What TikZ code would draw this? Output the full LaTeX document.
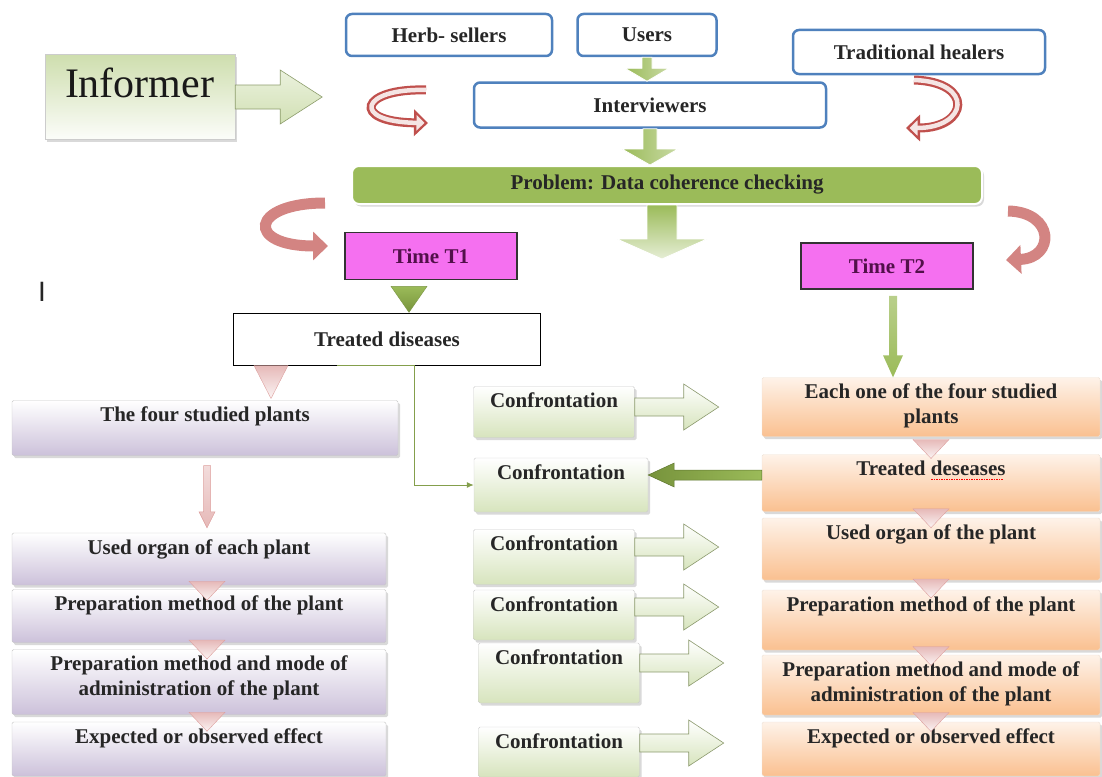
\documentclass[tikz,border=0pt]{standalone}
\usepackage{fontspec}
\setmainfont{Liberation Serif}
\newfontfamily\sansI{Liberation Sans}
\usepackage{tikz}
\usetikzlibrary{positioning, arrows.meta, calc, shadows}

\definecolor{boxblue}{HTML}{4F81BD}
\definecolor{olive}{HTML}{9BBB59}
\definecolor{darkolive}{HTML}{77933C}
\definecolor{paleolive}{HTML}{D7E4BD}
\definecolor{lavender}{HTML}{CCC1DA}
\definecolor{peach}{HTML}{FAC090}
\definecolor{rosered}{HTML}{C0504D}
\definecolor{rosepink}{HTML}{D99694}
\definecolor{magentabox}{HTML}{F570F0}
\definecolor{timetext}{HTML}{52104A}
\definecolor{pinktri}{HTML}{E6B9B8}

% block arrows: style, start, tip, shaft half, head half, head length
\newcommand{\blockright}[6]{%
  \path[#1] ($(#2)+(0,-#4)$) -- ($(#3)+({-(#6)},-#4)$) -- ($(#3)+({-(#6)},-#5)$) -- (#3)
    -- ($(#3)+({-(#6)},#5)$) -- ($(#3)+({-(#6)},#4)$) -- ($(#2)+(0,#4)$) -- cycle;}
\newcommand{\blockdown}[6]{%
  \path[#1] ($(#2)+(-#4,0)$) -- ($(#3)+(-#4,-#6)$) -- ($(#3)+(-#5,-#6)$) -- (#3)
    -- ($(#3)+(#5,-#6)$) -- ($(#3)+(#4,-#6)$) -- ($(#2)+(#4,0)$) -- cycle;}
\newcommand{\spellmark}{\rlap{\color{red}\hbox to 74pt{\leaders\hbox to 2.5pt{\hss\rule[-5pt]{1.4pt}{1.2pt}\hss}\hfill}}}

\begin{document}
\begin{tikzpicture}[x=1pt, y=-1pt,
    sz/.style 2 args={minimum width=#1pt, minimum height=#2pt},
    shd/.style={drop shadow={opacity=.3, shadow xshift=2pt, shadow yshift=-2.5pt}},
    txt/.style={font=\bfseries\fontsize{21}{25}\selectfont, text=black!85},
    lbl/.style={txt, align=center, anchor=north, yshift=-3pt},
    hdr/.style={txt, draw=boxblue, line width=2.5pt, rounded corners=6pt, fill=white, inner sep=0pt},
    infobox/.style={draw=black!20, top color=paleolive!85!olive, bottom color=white!92!paleolive, shd, inner sep=0pt},
    probbar/.style={txt, fill=olive, draw=white, line width=2pt, rounded corners=7pt, shd, inner sep=0pt},
    timebox/.style={txt, draw=black!80, line width=1.5pt, fill=magentabox, text=timetext, inner sep=0pt},
    plainbox/.style={txt, draw=black, line width=1pt, fill=white, inner sep=0pt},
    purplebox/.style={draw=black!22, top color=white, bottom color=lavender, rounded corners=1.5pt, shd, inner sep=0pt},
    orangebox/.style={draw=peach!80!black!30, top color=white!80!peach, bottom color=peach, rounded corners=1.5pt, shd, inner sep=0pt},
    confbox/.style={draw=black!20, top color=white, bottom color=paleolive, rounded corners=1.5pt, shd, inner sep=0pt},
    ltarrow/.style={top color=paleolive!50!white, bottom color=paleolive!90!olive, draw=olive!50!gray, line width=.6pt},
    carrow/.style={top color=white, bottom color=paleolive, draw=olive!45!gray, line width=.6pt},
    darrow/.style={left color=darkolive, right color=olive, draw=darkolive!80!black, line width=.5pt},
    gdown/.style={left color=olive, right color=olive!55!white, draw=white, line width=.8pt},
    gbig/.style={top color=olive, bottom color=white!75!olive, draw=white, line width=.8pt},
    gthin/.style={top color=olive!70!white, bottom color=olive},
    gtri/.style={top color=olive, bottom color=darkolive, draw=olive!80!black, line width=.4pt},
    ptri/.style={top color=pinktri, bottom color=white!85!pinktri, draw=pinktri!75!rosered, line width=.4pt},
    pthin/.style={top color=pinktri!50!white, bottom color=pinktri, draw=pinktri!75!rosered, line width=.5pt},
    gline/.style={draw=olive!85!black, line width=1pt, -{Latex[length=7pt, width=6pt]}},
    redout/.style={line width=9pt, draw=rosered, -{Triangle[length=14pt, width=26pt]}},
    redin/.style={line width=4.5pt, draw=white!75!rosepink, shorten >=3.5pt, -{Triangle[length=8pt, width=15pt]}},
    redfill/.style={line width=11pt, draw=rosepink!75!rosered, -{Triangle[length=15pt, width=28pt]}}
]
\useasboundingbox (0,0) rectangle (1102,776);

\node[hdr, sz={206}{42}] (herb) at (449,35) {Herb- sellers};
\node[hdr, sz={139}{42}] (users) at (647,35) {Users};
\node[hdr, sz={252}{44}] (healers) at (919,52) {Traditional healers};
\node[hdr, sz={352}{45}] (intv) at (650,105) {Interviewers};
\node[infobox, sz={190}{85}, label={[font=\fontsize{42}{46}\selectfont, text=black!90, anchor=north west, inner sep=0pt, xshift=20pt, yshift=-13pt]north west:Informer}] (informer) at (140,97) {};

\node[probbar, sz={630}{38}] (prob) at (667,185) {Problem: Data coherence checking};
\node[timebox, sz={172}{47}] (t1) at (431,256) {Time T1};
\node[timebox, sz={172}{46}] (t2) at (887,266) {Time T2};
\node[font=\sansI\fontsize{28}{32}\selectfont, text=black!85] (stray) at (42,292) {I};
\node[plainbox, sz={307}{52}] (tdis) at (387,339) {Treated diseases};

\node[purplebox, sz={386}{55}, label={[lbl]north:The four studied plants}] (four) at (205,428) {};
\node[purplebox, sz={374}{52}, label={[lbl]north:Used organ of each plant}] (used) at (199,559) {};
\node[purplebox, sz={374}{53}, label={[lbl]north:Preparation method of the plant}] (prep) at (199,616) {};
\node[purplebox, sz={374}{65}, label={[lbl]north:Preparation method and mode of\\administration of the plant}] (mode) at (199,682) {};
\node[purplebox, sz={374}{54}, label={[lbl]north:Expected or observed effect}] (eff) at (199,749) {};

\node[confbox, sz={161}{51}, label={[lbl]north:Confrontation}] (conf1) at (554,412) {};
\node[confbox, sz={174}{54}, label={[lbl]north:Confrontation}] (conf2) at (561,485) {};
\node[confbox, sz={161}{55}, label={[lbl]north:Confrontation}] (conf3) at (554,557) {};
\node[confbox, sz={161}{50}, label={[lbl]north:Confrontation}] (conf4) at (554,615) {};
\node[confbox, sz={161}{60}, label={[lbl]north:Confrontation}] (conf5) at (559,673) {};
\node[confbox, sz={161}{50}, label={[lbl]north:Confrontation}] (conf6) at (559,752) {};

\node[orangebox, sz={338}{59}, label={[lbl]north:Each one of the four studied\\plants}] (each) at (931,407) {};
\node[orangebox, sz={338}{57}, label={[lbl]north:Treated \spellmark deseases}] (tdes) at (931,483) {};
\node[orangebox, sz={338}{62}, label={[lbl]north:Used organ of the plant}] (usedR) at (931,549) {};
\node[orangebox, sz={338}{60}, label={[lbl]north:Preparation method of the plant}] (prepR) at (931,620) {};
\node[orangebox, sz={338}{60}, label={[lbl]north:Preparation method and mode of\\administration of the plant}] (modeR) at (931,685) {};
\node[orangebox, sz={338}{54}, label={[lbl]north:Expected or observed effect}] (effR) at (931,749) {};

\coordinate (inftip) at ([xshift=87pt]informer.east);
\blockright{ltarrow}{informer.east}{inftip}{12}{27}{42}
\coordinate (uitip) at (users.south |- intv.north);
\blockdown{gdown}{users.south}{uitip}{5}{22}{13}
\coordinate (iptip) at (intv.south |- prob.north);
\blockdown{gdown}{intv.south}{iptip}{7}{28}{16}
\coordinate (pbtop) at ([xshift=-5pt]prob.south);
\coordinate (pbtip) at ([xshift=-5pt, yshift=-54pt]prob.south);
\blockdown{gbig}{pbtop}{pbtip}{15}{45}{20}

\coordinate (t1m) at ($(t1.south)!.5!(tdis.north)$);
\path[gtri] ($(t1m)+(-18,-10)$) -- ($(t1m)+(18,-10)$) -- ($(t1m)+(0,16)$) -- cycle;
\coordinate (t2s) at ([xshift=6pt, yshift=-6pt]t2.south);
\coordinate (t2tip) at (t2s |- each.north);
\blockdown{gthin}{t2s}{t2tip}{4}{10}{22}

\coordinate (tri0) at ([xshift=-116pt]tdis.south);
\path[ptri] ($(tri0)+(-17,0)$) -- ($(tri0)+(17,0)$) -- ($(tri0)+(0,33)$) -- cycle;
\coordinate (fa) at ([xshift=2pt, yshift=-10pt]four.south);
\coordinate (fab) at (fa |- used.north);
\coordinate (fatip) at ([yshift=5pt]fab);
\blockdown{pthin}{fa}{fatip}{3.5}{8}{16}

\foreach \a/\b/\dx in {used/prep/8, prep/mode/8, mode/eff/8, each/tdes/0, tdes/usedR/0, usedR/prepR/0, prepR/modeR/0, modeR/effR/0}
  \path[ptri] ($(\a.south)!.5!(\b.north)+(\dx-18,-6)$) -- ($(\a.south)!.5!(\b.north)+(\dx+18,-6)$)
    -- ($(\a.south)!.5!(\b.north)+(\dx,13)$) -- cycle;

\draw[gline] ([xshift=-50pt]tdis.south) -- ([xshift=27pt]tdis.south) |- (conf2.west);

\foreach \c/\dy in {conf1/5, conf3/10, conf4/8, conf5/10, conf6/9} {
  \coordinate (\c-s) at ([yshift=\dy pt]\c.east);
  \coordinate (\c-t) at ([xshift=84pt]\c-s);
  \blockright{carrow}{\c-s}{\c-t}{9}{23}{35}
}
\coordinate (c2in) at ([yshift=10pt]conf2.east);
\coordinate (tdw) at (tdes.west |- c2in);
\blockright{darrow}{tdw}{c2in}{5}{12}{-26}

\draw[redout] (426,90) .. controls (360,88) and (350,122) .. (428,123);
\draw[redin] (426,90) .. controls (360,88) and (350,122) .. (428,123);
\draw[redout] (914,80) .. controls (975,82) and (968,128) .. (906,128);
\draw[redin] (914,80) .. controls (975,82) and (968,128) .. (906,128);
\draw[redfill] (325,203) .. controls (250,203) and (245,246) .. (328,246);
\draw[redfill] (1008,211) .. controls (1055,212) and (1055,258) .. (1006,260);
\end{tikzpicture}
\end{document}
